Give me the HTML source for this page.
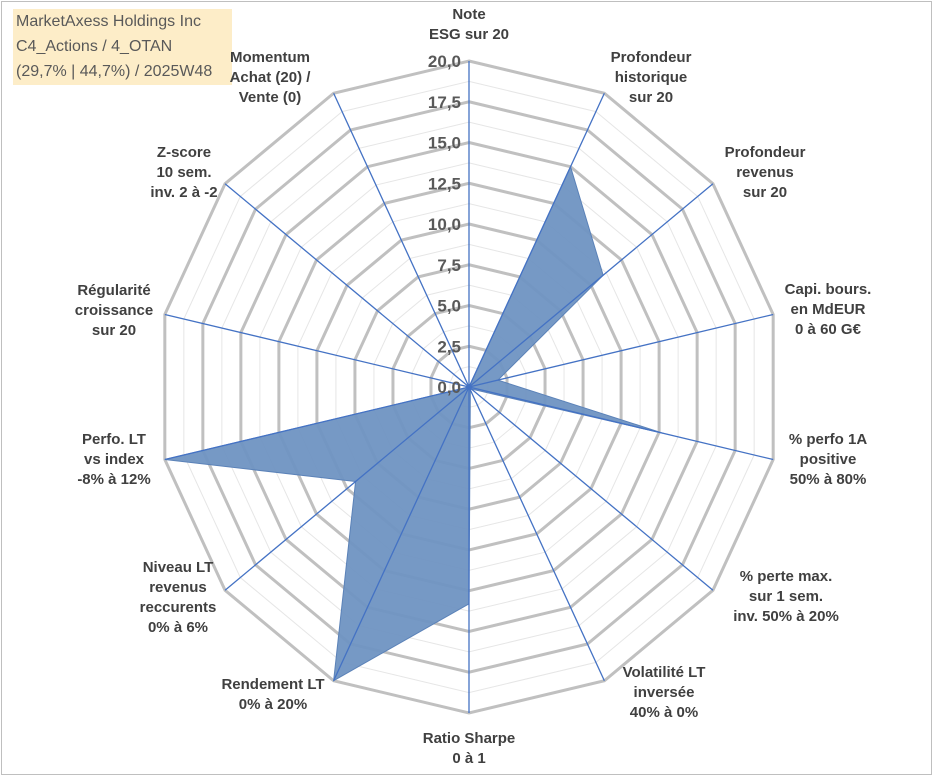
<!DOCTYPE html>
<html><head><meta charset="utf-8"><style>
body{margin:0;background:#fff;}
#wrap{position:relative;width:933px;height:776px;overflow:hidden;font-family:"Liberation Sans",sans-serif;}
#frame{position:absolute;left:1px;top:1px;width:929px;height:772px;border:1px solid #bfbfbf;}
.lbl{position:absolute;width:180px;margin-left:-90px;text-align:center;font-weight:bold;font-size:15px;line-height:20px;color:#404040;}
#title{position:absolute;left:13px;top:9px;width:219px;height:76px;background:#fdedc8;color:#595959;font-size:16px;line-height:25px;padding-left:3px;box-sizing:border-box;}
</style></head><body>
<div id="wrap">
<div id="frame"></div>
<svg id="svg" width="933" height="776" style="position:absolute;left:0;top:0"></svg>
<div id="title">MarketAxess Holdings Inc<br>C4_Actions / 4_OTAN<br>(29,7% | 44,7%) / 2025W48</div>
</div>
<script>
const categories=["Note<br>ESG sur 20","Profondeur<br>historique<br>sur 20","Profondeur<br>revenus<br>sur 20","Capi. bours.<br>en MdEUR<br>0 à 60 G€","% perfo 1A<br>positive<br>50% à 80%","% perte max.<br>sur 1 sem.<br>inv. 50% à 20%","Volatilité LT<br>inversée<br>40% à 0%","Ratio Sharpe<br>0 à 1","Rendement LT<br>0% à 20%","Niveau LT<br>revenus<br>reccurents<br>0% à 6%","Perfo. LT<br>vs index<br>-8% à 12%","Régularité<br>croissance<br>sur 20","Z-score<br>10 sem.<br>inv. 2 à -2","Momentum<br>Achat (20) /<br>Vente (0)"];
const values=[0,15,11,1.9,12.8,0.2,0.2,13.3,20,9.3,20,0,0,0];
const tickLabels=["0,0","2,5","5,0","7,5","10,0","12,5","15,0","17,5","20,0"];
const tickValues=[0,2.5,5,7.5,10,12.5,15,17.5,20];
const labelPos=[[469,5],[651,48],[765,143],[828,280],[828,430],[786,567],[664,663],[469,729],[273,675],[178,558],[114,430],[114,281],[184,143],[270,48]];
const cx=469,cy=387,R=326,RX=312,maxV=20,N=categories.length;
const svg=document.getElementById('svg');const NS='http://www.w3.org/2000/svg';
function ang(i){return i*2*Math.PI/N;}
function pt(i,v){const f=v/maxV;return [cx+f*RX*Math.sin(ang(i)),cy-f*R*Math.cos(ang(i))];}
function poly(v){let s=[];for(let i=0;i<N;i++)s.push(pt(i,v).join(','));return s.join(' ');}
for(let k=1;k<=16;k++){const v=k*1.25;const p=document.createElementNS(NS,'polygon');
p.setAttribute('points',poly(v));p.setAttribute('fill','none');
p.setAttribute('stroke',k%2==0?'#c0c0c0':'#e6e6e6');p.setAttribute('stroke-width',k%2==0?3:1);


svg.appendChild(p);}
const d=document.createElementNS(NS,'polygon');
let s=[];for(let i=0;i<N;i++)s.push(pt(i,values[i]).join(','));
d.setAttribute('points',s.join(' '));d.setAttribute('fill','#6f93c2');d.setAttribute('fill-opacity','0.95');d.setAttribute('stroke','#5b82b8');


svg.appendChild(d);
for(let i=0;i<N;i++){const e=pt(i,maxV);const l=document.createElementNS(NS,'line');
l.setAttribute('x1',cx);l.setAttribute('y1',cy);l.setAttribute('x2',e[0]);l.setAttribute('y2',e[1]);
l.setAttribute('stroke','#4472c4');l.setAttribute('stroke-width',1.3);


svg.appendChild(l);}
for(let k=0;k<tickValues.length;k++){const t=document.createElementNS(NS,'text');
t.setAttribute('x',cx-8);t.setAttribute('y',cy-tickValues[k]/maxV*R+6);t.setAttribute('text-anchor','end');
t.setAttribute('font-size','17');t.setAttribute('font-weight','bold');t.setAttribute('fill','#595959');
t.setAttribute('font-family','Liberation Sans, sans-serif');t.textContent=tickLabels[k];


svg.appendChild(t);}
const wrap=document.getElementById('wrap');
for(let i=0;i<N;i++){const dv=document.createElement('div');dv.className='lbl';
dv.style.left=labelPos[i][0]+'px';dv.style.top=labelPos[i][1]+'px';dv.innerHTML=categories[i];


wrap.appendChild(dv);}
</script>
</body></html>
